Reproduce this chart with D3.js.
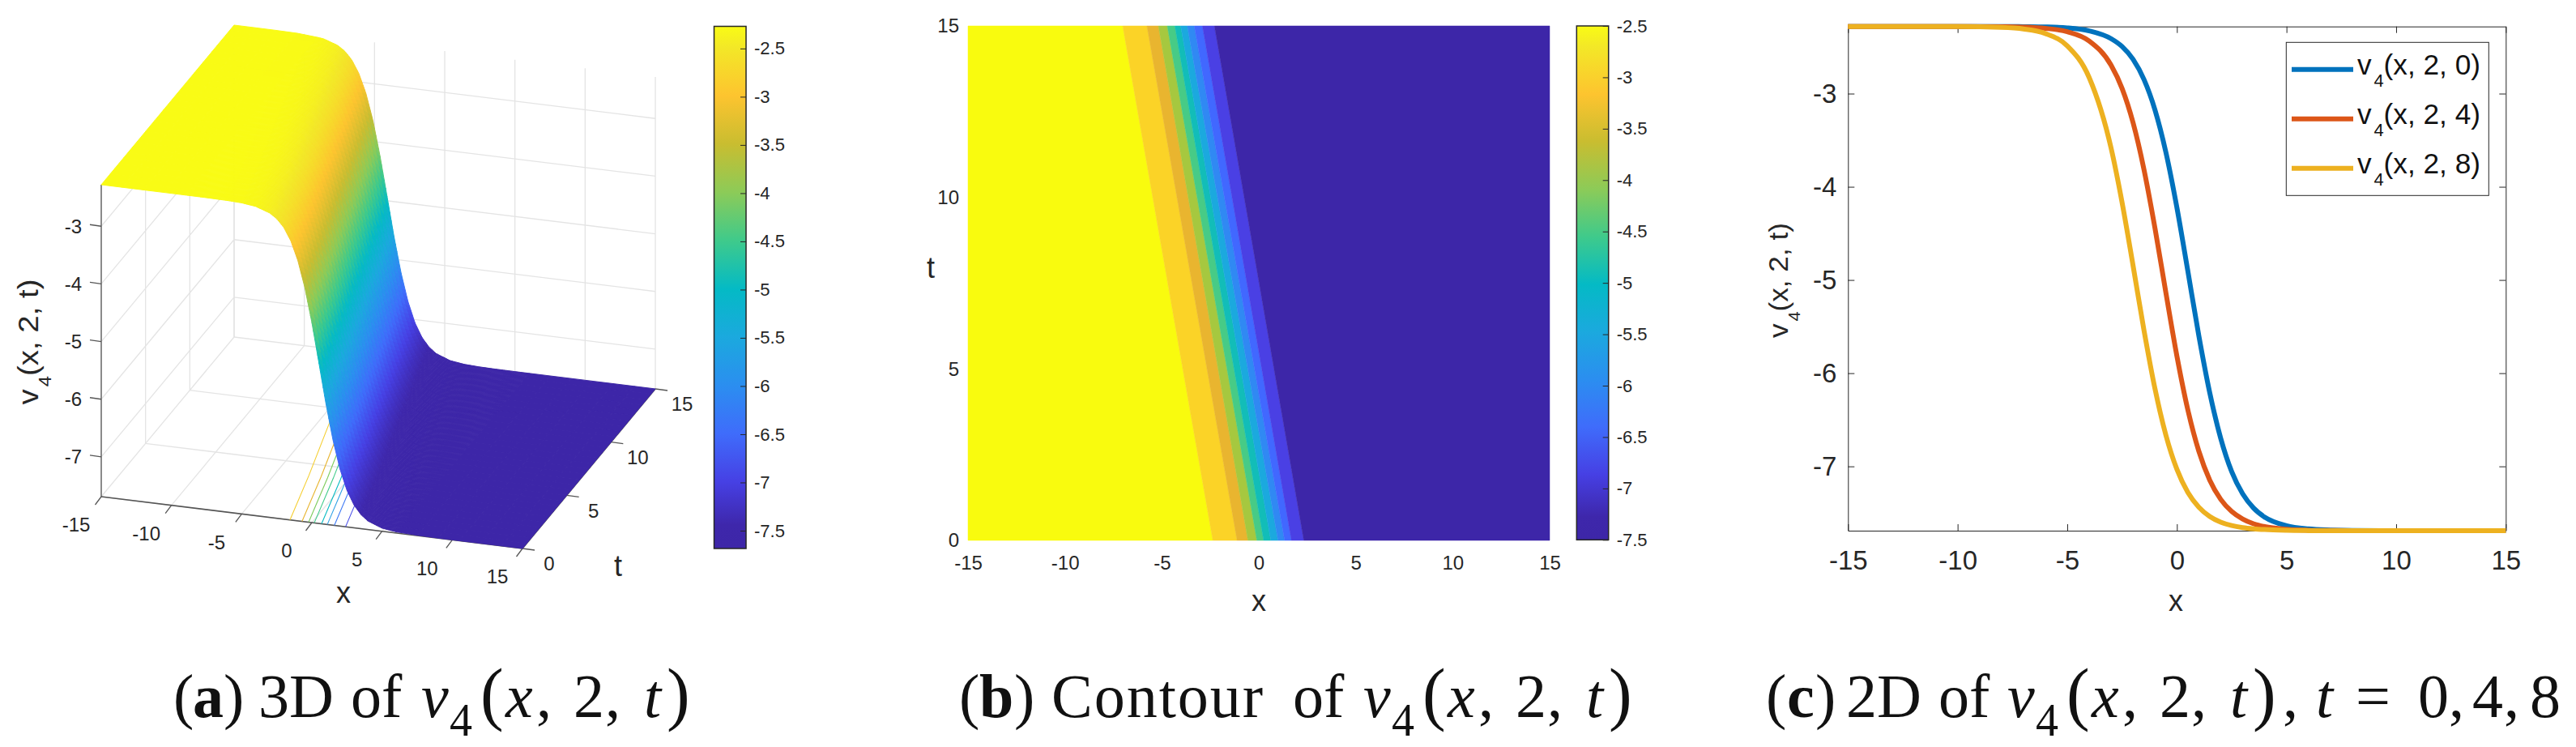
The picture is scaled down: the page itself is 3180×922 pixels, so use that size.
<!DOCTYPE html>
<html><head><meta charset="utf-8">
<script src="https://cdn.jsdelivr.net/npm/d3@7/dist/d3.min.js"></script>
<style>
html,body{margin:0;padding:0;background:#fff}
svg{display:block}
text{font-family:"Liberation Sans",Arial,sans-serif;fill:#262626;white-space:pre}
.cap,.cap tspan{font-family:"Liberation Serif",serif;fill:#111}
</style></head><body>
<script>
// ---- values ----
const xSamples = [-15,-10,-8,-7,-6,-5,-4,-3,-2.5,-2,-1.5,-1,-0.5,0,0.5,1,1.5,2,2.5,3,3.5,4,5,6,7,8,10,15];
const curveT0 = [-2.28,-2.28,-2.28,-2.282,-2.285,-2.295,-2.327,-2.411,-2.495,-2.632,-2.849,-3.174,-3.631,-4.222,-4.904,-5.596,-6.21,-6.70,-7.057,-7.295,-7.448,-7.544,-7.637,-7.671,-7.683,-7.688,-7.69,-7.69];
const curveT4 = [-2.28,-2.28,-2.283,-2.287,-2.30,-2.336,-2.435,-2.696,-2.944,-3.311,-3.815,-4.443,-5.139,-5.815,-6.393,-6.836,-7.148,-7.354,-7.484,-7.565,-7.616,-7.646,-7.674,-7.685,-7.688,-7.69,-7.69,-7.69];
const curveT8 = [-2.28,-2.281,-2.29,-2.307,-2.355,-2.487,-2.828,-3.586,-4.168,-4.844,-5.54,-6.166,-6.666,-7.031,-7.279,-7.437,-7.537,-7.598,-7.635,-7.657,-7.670,-7.678,-7.686,-7.689,-7.69,-7.69,-7.69,-7.69];
const curveNames = ["0","4","8"];
const curveColors = ["#0072BD","#DC5618","#EDB120"];
const driftT = [0,4,8,15];
const driftX = [0,1.17,2.45,4.62];
const zDomain = [-7.69,-2.28];
const xTicks = [-15,-10,-5,0,5,10,15];
const tTicks = [0,5,10,15];
const zTicks3D = [-3,-4,-5,-6,-7];
const zTicks2D = [-3,-4,-5,-6,-7];
const barTicks = [-2.5,-3,-3.5,-4,-4.5,-5,-5.5,-6,-6.5,-7,-7.5];
const parulaAt = [0,.045,.1275,.22,.312,.405,.497,.59,.682,.775,.867,.96,1];
const parulaHex = ["#3D26A8","#3E27AB","#4640E4","#3F6CFB","#2B8EF0","#1BA9DE","#04BAC5","#3FCA8B","#8CCB58","#C9BD30","#FDC42F","#F3E827","#F9FB15"];
const bandColors = ["#F9FB0E","#FBD327","#E9B52F","#A6C83F","#47CB86","#12BDB8","#1BA9DE","#3089F3","#4168FF","#4A40E4","#3D26A8"];
const bandEdgesT0 = [-2.37,-1.12,-0.56,-0.10,0.25,0.62,0.99,1.33,1.68,2.32];
const bandEdgesT15 = [-7.02,-5.77,-5.18,-4.72,-4.33,-4.03,-3.69,-3.33,-2.91,-2.29];
const floorContourX = [-1.56,-0.70,-0.23,0.17,0.69,1.10,1.60,2.40];
const floorContourColors = ["#F5CE30","#E8B52F","#7DCB5C","#3FCB89","#08BBC4","#2EA0E5","#3C78F5","#4A50E8"];

const parula = d3.scaleLinear().domain(parulaAt).range(parulaHex).interpolate(d3.interpolateRgb).clamp(true);
const svg = d3.select("body").append("svg").attr("width",3180).attr("height",922);
const defs = svg.append("defs");

function fit(sel, x0, y0, w, rot){
  const b = sel.node().getBBox();
  const s = w / b.width;
  sel.attr("transform", rot ? `translate(${x0},${y0}) rotate(-90) scale(${s},1) translate(${-b.x-b.width/2},0)` : `translate(${x0},${y0}) scale(${s},1) translate(${-b.x},0)`);
}
function vLabel(g, size, lastArg){
  const t = g.append("text").attr("font-size",size);
  t.append("tspan").text("v");
  t.append("tspan").attr("font-size",size*0.62).attr("dy",size*0.44).attr("dx",size*0.08).text("4");
  t.append("tspan").attr("dy",-size*0.44).text("(x, 2, "+lastArg+")");
  return t;
}
function tickStyle(g,size){
  g.selectAll("text").attr("font-size",size).attr("fill","#262626");
  g.selectAll("line,path").attr("stroke","#262626");
}
function colorbar(id, x0, x1, y0, y1, dom){
  const gr = defs.append("linearGradient").attr("id",id).attr("x1",0).attr("x2",0).attr("y1",1).attr("y2",0);
  parulaAt.forEach((p,i)=>gr.append("stop").attr("offset",p).attr("stop-color",parulaHex[i]));
  svg.append("rect").attr("x",x0).attr("y",y0).attr("width",x1-x0).attr("height",y1-y0).attr("fill",`url(#${id})`);
  const sc = d3.scaleLinear().domain(dom).range([y1,y0]);
  const g = svg.append("g").attr("transform",`translate(${x1},0)`)
    .call(d3.axisRight(sc).tickValues(barTicks).tickSizeInner(-7).tickSizeOuter(0).tickPadding(10).tickFormat(d=>String(d)));
  g.select(".domain").remove();
  tickStyle(g,22);
  svg.append("rect").attr("x",x0).attr("y",y0).attr("width",x1-x0).attr("height",y1-y0).attr("fill","none").attr("stroke","#262626").attr("stroke-width",1.5);
}

// ---------- panel (a): 3D surface ----------
const A0 = [125,613];
const pxX = d3.scaleLinear().domain([-15,15]).range([0,520]);
const pyX = d3.scaleLinear().domain([-15,15]).range([0,64]);
const pxT = d3.scaleLinear().domain([0,15]).range([0,164]);
const pyT = d3.scaleLinear().domain([0,15]).range([0,-197]);
const pyZ = d3.scaleLinear().domain(zDomain).range([0,-385]);
const P = (x,t,z)=>[A0[0]+pxX(x)+pxT(t), A0[1]+pyX(x)+pyT(t)+pyZ(z)];
const a = svg.append("g");
const seg = (g,p,q,c,w)=>g.append("line").attr("x1",p[0]).attr("y1",p[1]).attr("x2",q[0]).attr("y2",q[1]).attr("stroke",c).attr("stroke-width",w);
const gridC = "#E4E4E4";
const zb = zDomain[0], zt = zDomain[1];
xTicks.forEach(x=>{ seg(a,P(x,0,zb),P(x,15,zb),gridC,1.3); seg(a,P(x,15,zb),P(x,15,zt),gridC,1.3); });
tTicks.forEach(t=>{ seg(a,P(-15,t,zb),P(15,t,zb),gridC,1.3); seg(a,P(-15,t,zb),P(-15,t,zt),gridC,1.3); });
zTicks3D.forEach(z=>{ seg(a,P(-15,0,z),P(-15,15,z),gridC,1.3); seg(a,P(-15,15,z),P(15,15,z),gridC,1.3); });
// axis lines and ticks
const axC = "#555";
seg(a,P(-15,0,zb),P(-15,0,zt),axC,1.3);
seg(a,P(-15,0,zb),P(15,0,zb),axC,1.5);
seg(a,P(15,0,zb),P(15,15,zb),axC,1.5);
xTicks.forEach(x=>{
  const p=P(x,0,zb); seg(a,p,[p[0]-7.5,p[1]+10],axC,1.3);
  a.append("text").attr("x",p[0]-31).attr("y",p[1]+35).attr("dy","0.35em").attr("text-anchor","middle").attr("font-size",24).text(x);
});
tTicks.forEach(t=>{
  const p=P(15,t,zb); seg(a,p,[p[0]+15,p[1]+2],axC,1.3);
  a.append("text").attr("x",p[0]+33).attr("y",p[1]+19).attr("dy","0.35em").attr("text-anchor","middle").attr("font-size",24).text(t);
});
zTicks3D.forEach(z=>{
  const p=P(-15,0,z);
  seg(a,p,[p[0]-14,p[1]-2],axC,1.3);
  a.append("text").attr("x",p[0]-24).attr("y",p[1]).attr("dy","0.35em").attr("text-anchor","end").attr("font-size",24).text(z);
});
// drift of the wave front and the read-off t=0 profile
const profile = d3.scaleLinear().domain(xSamples).range(curveT0).clamp(true);
const drift = d3.scaleLinear().domain(driftT).range(driftX);
const surfZ = (x,t)=>profile(x+drift(t));
// floor contours
const lineP = d3.line();
floorContourX.forEach((x0,i)=>{
  a.append("path").attr("d",lineP(driftT.map(t=>P(Math.max(-15,x0-drift(t)),t,zb))))
    .attr("fill","none").attr("stroke",floorContourColors[i]).attr("stroke-width",1.1);
});
// surface: painted from the far corner to the near corner
const colorOf = z=>parula((z-zDomain[0])/(zDomain[1]-zDomain[0]));
const xNodes = d3.range(-15,-9,1.5).concat(d3.range(-9,6,0.1)).concat(d3.range(6,15.01,1.5));
const tNodes = d3.range(15,-0.01,-0.5);
const surf = a.append("g");
for(let j=0;j<tNodes.length-1;j++){
  const t1=tNodes[j], t0=tNodes[j+1];
  for(let i=0;i<xNodes.length-1;i++){
    const x0=xNodes[i], x1=xNodes[i+1];
    const zs=[surfZ(x0,t1),surfZ(x1,t1),surfZ(x1,t0),surfZ(x0,t0)];
    const pts=[P(x0,t1,zs[0]),P(x1,t1,zs[1]),P(x1,t0,zs[2]),P(x0,t0,zs[3])];
    const c=colorOf(d3.mean(zs));
    surf.append("polygon").attr("points",pts.map(p=>p[0].toFixed(2)+","+p[1].toFixed(2)).join(" "))
      .attr("fill",c).attr("stroke",c).attr("stroke-width",1);
  }
}
a.append("text").attr("x",424).attr("y",735).attr("dy","0.26em").attr("text-anchor","middle").attr("font-size",36).text("x");
a.append("text").attr("x",763).attr("y",698).attr("dy","0.35em").attr("text-anchor","middle").attr("font-size",36).text("t");
fit(vLabel(a,36,"t"),47,422,155,true);
colorbar("barA",881.5,921,32.5,677,[-7.685,-2.27]);

// ---------- panel (b): filled contour ----------
const bx = d3.scaleLinear().domain([-15,15]).range([1195,1913]);
const by = d3.scaleLinear().domain([0,15]).range([667,32]);
const b = svg.append("g");
const area = d3.line().x(d=>bx(d[0])).y(d=>by(d[1]));
bandColors.forEach((c,i)=>{
  const l0 = i===0 ? -15 : bandEdgesT0[i-1], l1 = i===0 ? -15 : bandEdgesT15[i-1];
  const r0 = i===bandColors.length-1 ? 15 : bandEdgesT0[i], r1 = i===bandColors.length-1 ? 15 : bandEdgesT15[i];
  b.append("path").attr("d",area([[l0,0],[r0,0],[r1,15],[l1,15]])+"Z").attr("fill",c).attr("stroke",c).attr("stroke-width",0.5);
});
const bxA = svg.append("g").attr("transform","translate(0,667)").call(d3.axisBottom(bx).tickValues(xTicks).tickSize(0).tickPadding(18.5).tickFormat(d=>String(d)));
const byA = svg.append("g").attr("transform","translate(1195,0)").call(d3.axisLeft(by).tickValues(tTicks).tickSize(0).tickPadding(11).tickFormat(d=>String(d)));
[bxA,byA].forEach(g=>{g.select(".domain").remove();tickStyle(g,24);});
svg.append("text").attr("x",1554).attr("y",745).attr("dy","0.26em").attr("text-anchor","middle").attr("font-size",36).text("x");
svg.append("text").attr("x",1149).attr("y",330).attr("dy","0.35em").attr("text-anchor","middle").attr("font-size",36).text("t");
colorbar("barB",1946.3,1985.7,32,666.3,[-7.5,-2.5]);

// ---------- panel (c): 2D curves ----------
const cx = d3.scaleLinear().domain([-15,15]).range([2281.3,3093.3]);
const cy = d3.scaleLinear().domain(zDomain).range([655,32.7]);
const c = svg.append("g");
const cxB = c.append("g").attr("transform","translate(0,655)").call(d3.axisBottom(cx).tickValues(xTicks).tickSizeInner(-8).tickSizeOuter(0).tickPadding(24.5).tickFormat(d=>String(d)));
const cyL = c.append("g").attr("transform","translate(2281.3,0)").call(d3.axisLeft(cy).tickValues(zTicks2D).tickSizeInner(-8).tickSizeOuter(0).tickPadding(14).tickFormat(d=>String(d)));
const cxT = c.append("g").attr("transform","translate(0,32.7)").call(d3.axisTop(cx).tickValues(xTicks).tickSizeInner(-8).tickSizeOuter(0).tickFormat(""));
const cyR = c.append("g").attr("transform","translate(3093.3,0)").call(d3.axisRight(cy).tickValues(zTicks2D).tickSizeInner(-8).tickSizeOuter(0).tickFormat(""));
[cxB,cyL,cxT,cyR].forEach(g=>tickStyle(g,33));
const curve = d3.line().x((d,i)=>cx(xSamples[i])).y(d=>cy(d)).curve(d3.curveMonotoneX);
[curveT0,curveT4,curveT8].forEach((s,i)=>{
  c.append("path").attr("d",curve(s)).attr("fill","none").attr("stroke",curveColors[i]).attr("stroke-width",6);
});
c.append("text").attr("x",2686).attr("y",745).attr("dy","0.26em").attr("text-anchor","middle").attr("font-size",36).text("x");
fit(vLabel(c,33,"t"),2207,346,142,true);
// legend
c.append("rect").attr("x",2822.3).attr("y",52.3).attr("width",250).attr("height",189).attr("fill","#fff").attr("stroke","#262626").attr("stroke-width",1);
const legendY = d3.scalePoint().domain(curveNames).range([85.7,207.7]);
curveNames.forEach((n,i)=>{
  seg(c,[2829,legendY(n)],[2905,legendY(n)],curveColors[i],6);
  const t=vLabel(c,35,n); t.selectAll("tspan").attr("fill","#111");
  fit(t,2910,legendY(n)+6,152,false);
});

// ---------- captions: each glyph group sits where the reference typesets it ----------
const mathBlock = [["v",0,"i"],["4",35,"s"],["(",73,"p"],["x",104,"i"],[",",142,""],["2",188,""],[",",227,""],["t",275,"i"],[")",303,"p"]];
function caption(lead, vX, tail){
  const t = svg.append("text").attr("class","cap").attr("font-size",76).attr("y",885);
  const put = (s,x,kind,extra)=>{
    const sp = t.append("tspan").attr("x",x).attr("y",kind==="s"?908:885).text(s);
    if(kind==="i") sp.attr("font-style","italic");
    if(kind==="b") sp.attr("font-weight","bold");
    if(kind==="s") sp.attr("font-size",56);
    if(kind==="p") sp.attr("font-size",86);
    if(extra) sp.attr("letter-spacing",extra);
  };
  lead.forEach(d=>put(...d));
  mathBlock.forEach(d=>put(d[0],vX+d[1],d[2]));
  if(tail) tail.forEach(d=>put(...d));
}
caption([["(",214,""],["a",238,"b"],[")",276,""],["3D",319,""],["of",433,""]],520);
caption([["(",1184,""],["b",1209,"b"],[")",1252,""],["Contour",1298,"",2],["of",1596,""]],1683);
caption([["(",2180,""],["c",2206,"b"],[")",2241,""],["2D",2279,""],["of",2393,""]],2478,
  [[",",2818,""],["t",2859,"i"],["=",2908,""],["0",2985,""],[",",3023,""],["4",3052,""],[",",3091,""],["8",3123,""]]);
</script>
</body></html>
